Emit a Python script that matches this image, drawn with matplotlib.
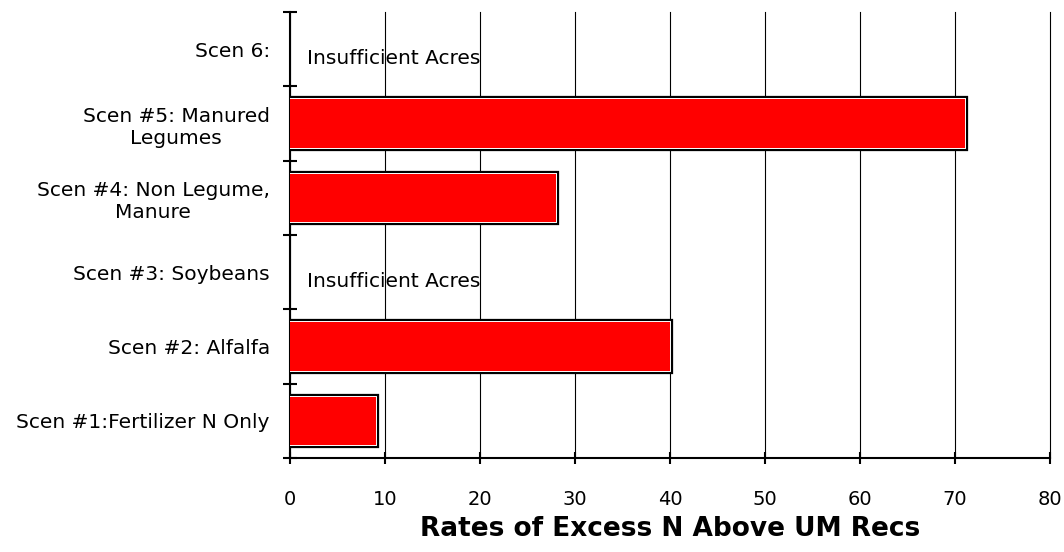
import matplotlib
matplotlib.use("Agg")
import matplotlib.pyplot as plt
import matplotlib.patheffects as pe
import numpy as np

plt.rcParams['font.family'] = ['DejaVu Sans']

# Scenarios listed bottom to top
scenarios = [
    "Scen #1:Fertilizer N Only",
    "Scen #2: Alfalfa",
    "Scen #3: Soybeans",
    "Scen #4: Non Legume,\nManure",
    "Scen #5: Manured\nLegumes",
    "Scen 6:",
]
excess_n = [9, 40, None, 28, 71, None]
no_data_note = "Insufficient Acres"
x_ticks = [0, 10, 20, 30, 40, 50, 60, 70, 80]
x_label = "Rates of Excess N Above UM Recs"

fig = plt.figure(figsize=(10.64, 5.52), dpi=100)
ax = fig.add_axes([290 / 1064, 1 - 458 / 552, 760 / 1064, 446 / 552])

n = len(scenarios)
centers = np.arange(n) + 0.5

bar_fx = [pe.Stroke(linewidth=4.5, foreground='black'),
          pe.Stroke(linewidth=1.4, foreground='white'),
          pe.Normal()]

for yc, val in zip(centers, excess_n):
    if val is None:
        ax.text(1.8, yc - 0.13, no_data_note, fontsize=14.5, va='center',
                ha='left', zorder=4)
    else:
        bars = ax.barh(yc, val, height=0.65, color='#ff0000',
                       edgecolor='none', linewidth=0, zorder=3)
        for b in bars:
            b.set_path_effects(bar_fx)

ax.set_xlim(0, 80)
ax.set_ylim(0, n)

# vertical grid
ax.set_xticks(x_ticks)
ax.set_xticklabels([str(t) for t in x_ticks], fontsize=14)
ax.xaxis.grid(True, color='black', linewidth=0.8, zorder=0)
ax.set_axisbelow(True)
for gl in ax.get_xgridlines():
    gl.set_clip_on(False)

# boundary ticks on the category axis, labels at the centres
ax.set_yticks(np.arange(n + 1))
ax.set_yticklabels([])
ax.set_yticks(centers, minor=True)
ax.set_yticklabels(scenarios, minor=True, fontsize=14.5, multialignment='center')
ax.tick_params(axis='y', which='major', direction='inout', length=10,
               width=1.5, color='black')
ax.tick_params(axis='y', which='minor', length=0, pad=14.5)
ax.tick_params(axis='x', which='major', direction='inout', length=9,
               width=1.5, color='black', pad=18.5)

for side in ('top', 'right'):
    ax.spines[side].set_visible(False)
for side in ('left', 'bottom'):
    ax.spines[side].set_linewidth(1.5)
    ax.spines[side].set_color('black')

ax.set_xlabel(x_label, fontsize=19, fontweight='bold', labelpad=5)

fig.savefig("out.png", dpi=100)
